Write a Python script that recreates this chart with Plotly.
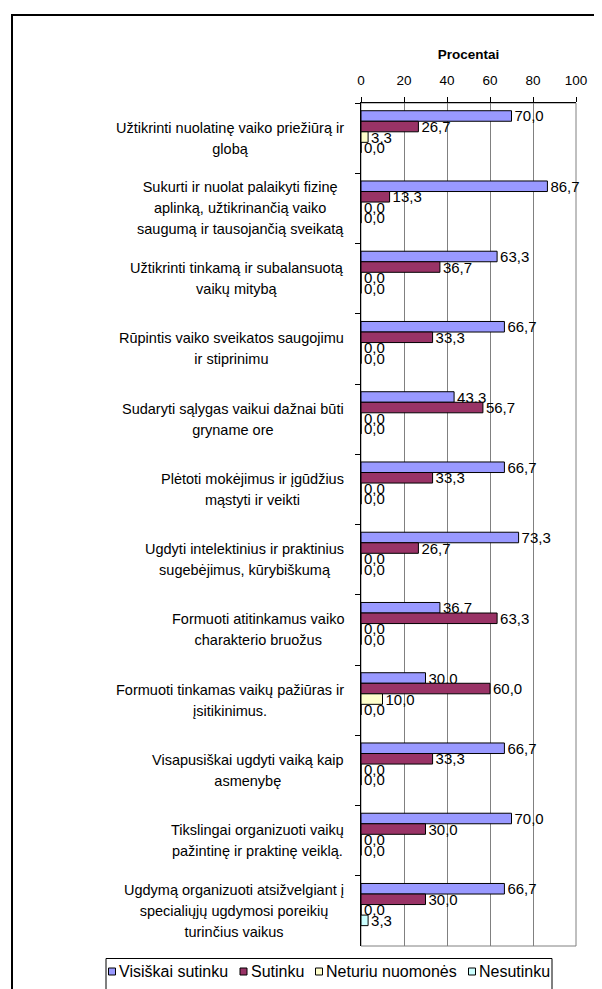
import plotly.graph_objects as go

categories = [
    "Užtikrinti nuolatinę vaiko priežiūrą ir<br>globą",
    "Sukurti ir nuolat palaikyti fizinę<br>aplinką, užtikrinančią vaiko<br>saugumą ir tausojančią sveikatą",
    "Užtikrinti tinkamą ir subalansuotą<br>vaikų mitybą",
    "Rūpintis vaiko sveikatos saugojimu<br>ir stiprinimu",
    "Sudaryti sąlygas vaikui dažnai būti<br>gryname ore",
    "Plėtoti mokėjimus ir įgūdžius<br>mąstyti ir veikti",
    "Ugdyti intelektinius ir praktinius<br>sugebėjimus, kūrybiškumą",
    "Formuoti atitinkamus vaiko<br>charakterio bruožus",
    "Formuoti tinkamas vaikų pažiūras ir<br>įsitikinimus.",
    "Visapusiškai ugdyti vaiką kaip<br>asmenybę",
    "Tikslingai organizuoti vaikų<br>pažintinę ir praktinę veiklą.",
    "Ugdymą organizuoti atsižvelgiant į<br>specialiųjų ugdymosi poreikių<br>turinčius vaikus",
]

series_names = ["Visiškai sutinku", "Sutinku", "Neturiu nuomonės", "Nesutinku"]
visiskai_sutinku = [70.0, 86.7, 63.3, 66.7, 43.3, 66.7, 73.3, 36.7, 30.0, 66.7, 70.0, 66.7]
sutinku = [26.7, 13.3, 36.7, 33.3, 56.7, 33.3, 26.7, 63.3, 60.0, 33.3, 30.0, 30.0]
neturiu_nuomones = [3.3, 0.0, 0.0, 0.0, 0.0, 0.0, 0.0, 0.0, 10.0, 0.0, 0.0, 0.0]
nesutinku = [0.0, 0.0, 0.0, 0.0, 0.0, 0.0, 0.0, 0.0, 0.0, 0.0, 0.0, 3.3]
series_values = [visiskai_sutinku, sutinku, neturiu_nuomones, nesutinku]
colors = ["#9999FF", "#993366", "#FFFFCC", "#CCFFFF"]

x_ticks = [0, 20, 40, 60, 80, 100]
axis_title = "Procentai"

FONT = "Arial, Liberation Sans, sans-serif"
OFF = 8  # page body margin
W, H = 602 - OFF, 989 - OFF
# plot area in page pixels
PX0, PX1, PY0, PY1 = 361, 576, 103, 946
L, R, T, B = PX0 - OFF, W - (PX1 - OFF), PY0 - OFF, H - (PY1 - OFF)
PW = W - L - R
PH = H - T - B

def px_x(p):
    return (p - OFF - L) / PW

def px_y(p):
    return (H - B - (p - OFF)) / PH

fig = go.Figure()
bar_w = 0.15
start = -0.39
for i, (name, vals, col) in enumerate(zip(series_names, series_values, colors)):
    fig.add_trace(go.Bar(
        y=categories, x=vals, name=name, orientation="h",
        offset=start + i * bar_w, width=bar_w,
        marker=dict(color=col, line=dict(color="black", width=1)),
        texttemplate="%{x:.1f}", textposition="outside",
        textfont=dict(family=FONT, size=15, color="black"),
        constraintext="none", cliponaxis=False, showlegend=False,
    ))

# category labels (centered multi-line blocks, wider line spacing)
LABEL_SIZE = 14.5
LINE_H = 21.0
for c in categories:
    styled = "<br>".join(
        f"<span style='font-size:{LABEL_SIZE}px'>{ln}</span>" for ln in c.split("<br>")
    )
    fig.add_annotation(
        x=px_x(346), xref="paper", xanchor="right", y=c, yref="y", yanchor="middle",
        text=styled, showarrow=False, align="center",
        font=dict(family=FONT, size=LINE_H / 1.3, color="black"),
    )

shapes = [
    dict(type="rect", xref="paper", yref="paper", x0=0, x1=1, y0=0, y1=1,
         line=dict(color="#808080", width=1), layer="below"),
    dict(type="rect", xref="paper", yref="paper",
         x0=px_x(12), x1=px_x(640), y0=px_y(1020), y1=px_y(15),
         line=dict(color="black", width=2)),
    # legend box
    dict(type="rect", xref="paper", yref="paper",
         x0=px_x(106), x1=px_x(552), y0=px_y(1000), y1=px_y(958.5),
         line=dict(color="black", width=1), fillcolor="white"),
]

legend_marker_x = [108.5, 240, 315.5, 468.5]
for name, col, mx in zip(series_names, colors, legend_marker_x):
    shapes.append(dict(type="rect", xref="paper", yref="paper",
                       x0=px_x(mx), x1=px_x(mx + 7), y0=px_y(975), y1=px_y(968),
                       line=dict(color="black", width=1), fillcolor=col))
    fig.add_annotation(
        x=px_x(mx + 8.5), xref="paper", xanchor="left",
        y=px_y(971.5), yref="paper", yanchor="middle",
        text=name, showarrow=False,
        font=dict(family=FONT, size=16, color="black"),
    )

fig.update_layout(
    width=W, height=H,
    margin=dict(l=L, r=R, t=T, b=B, pad=0),
    paper_bgcolor="white", plot_bgcolor="white",
    separators=",.",
    barmode="overlay",
    font=dict(family=FONT, size=13.5, color="black"),
    shapes=shapes,
    showlegend=False,
    xaxis=dict(
        side="top", range=[0, 100], tickvals=x_ticks, ticktext=[str(t) for t in x_ticks],
        showgrid=True, gridcolor="#808080", gridwidth=1, zeroline=False,
        showline=True, linecolor="black", linewidth=1,
        ticks="outside", ticklen=5, tickcolor="black",
        tickfont=dict(family=FONT, size=13.5), ticklabelstandoff=7,
        title=dict(text="<b>" + axis_title + "</b>", font=dict(family=FONT, size=13.5), standoff=9),
        fixedrange=True,
    ),
    yaxis=dict(
        type="category", categoryorder="array", categoryarray=categories,
        range=[len(categories) - 0.5, -0.5],
        showticklabels=False, showgrid=False, zeroline=False,
        showline=True, linecolor="black", linewidth=1,
        ticks="outside", ticklen=5, tickcolor="black", tickson="boundaries",
        fixedrange=True,
    ),
)

fig.write_html("out.html")
